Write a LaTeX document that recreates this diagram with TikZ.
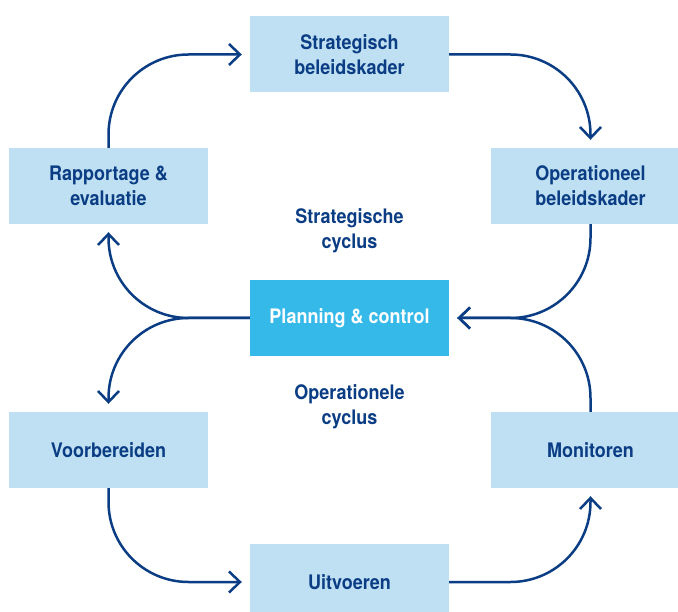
\documentclass[tikz,border=0pt]{standalone}
\usepackage{fontspec}
\setmainfont{TeX Gyre Heros}[FakeStretch=0.9]
\usetikzlibrary{arrows.meta}
\definecolor{boxlight}{HTML}{BEE0F2}
\definecolor{boxmid}{HTML}{35B9E9}
\definecolor{navy}{HTML}{0B3D84}
\tikzset{
  stage/.style={fill=boxlight, draw=none, minimum width=199pt, minimum height=76pt,
    inner sep=0pt, align=center, text=navy, font=\fontsize{20}{25}\selectfont\bfseries},
  hub/.style={stage, fill=boxmid, text=white},
  label/.style={align=center, text=navy, font=\fontsize{20}{25}\selectfont\bfseries},
  flow/.style={draw=navy, line width=2.5pt, rounded corners=80pt,
    -{Straight Barb[length=11pt,width=21pt,line width=2.5pt]}, shorten >=8pt},
}
\begin{document}
\begin{tikzpicture}[x=1pt,y=-1pt]
\clip (0,0) rectangle (678,612);
\fill[white] (0,0) rectangle (678,612);
\node[stage] (strat) at (349.5,54.5) {Strategisch\\beleidskader};
\node[stage] (rapp) at (108.5,186) {Rapportage \&\\evaluatie};
\node[stage] (oper) at (590.5,186) {Operationeel\\beleidskader};
\node[hub] (plan) at (349.5,318) {Planning \& control};
\node[stage] (voor) at (108.5,450) {Voorbereiden};
\node[stage] (moni) at (590.5,450) {Monitoren};
\node[stage] (uitv) at (349.5,582) {Uitvoeren};
\node[label] (sc) at (349.5,231) {Strategische\\cyclus};
\node[label] (oc) at (349.5,407) {Operationele\\cyclus};
\draw[flow] (rapp.north) |- (strat.west);
\draw[flow] (strat.east) -| (oper.north);
\draw[flow] (oper.south) |- (plan.east);
\draw[flow] (moni.north) |- (plan.east);
\draw[flow] (plan.west) -| (rapp.south);
\draw[flow] (plan.west) -| (voor.north);
\draw[flow] (voor.south) |- (uitv.west);
\draw[flow] (uitv.east) -| (moni.south);
\end{tikzpicture}
\end{document}
